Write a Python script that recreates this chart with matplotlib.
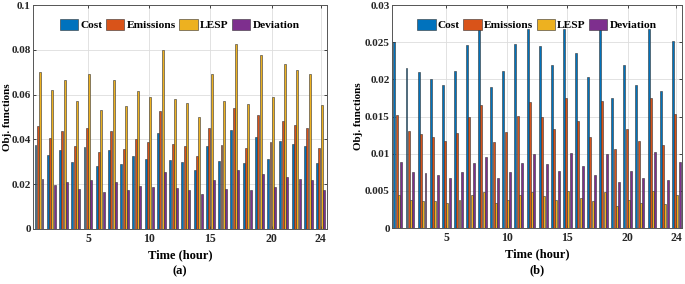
import matplotlib
matplotlib.use('Agg')
import matplotlib.pyplot as plt
import numpy as np

hours = np.arange(1, 25)
series = ['Cost', 'Emissions', 'LESP', 'Deviation']
colors = ['#0072BD', '#D95319', '#EDB120', '#7E2F8E']

# panel (a)
cost_a = [0.0373, 0.0329, 0.0353, 0.0299, 0.0366, 0.0280, 0.0353, 0.0290, 0.0326, 0.0313, 0.0427, 0.0307,
          0.0299, 0.0265, 0.0369, 0.0304, 0.0440, 0.0295, 0.0412, 0.0314, 0.0391, 0.0379, 0.0369, 0.0293]
emis_a = [0.0458, 0.0404, 0.0436, 0.0370, 0.0450, 0.0344, 0.0436, 0.0356, 0.0401, 0.0387, 0.0526, 0.0381,
          0.0369, 0.0326, 0.0453, 0.0373, 0.0541, 0.0363, 0.0507, 0.0387, 0.0481, 0.0464, 0.0453, 0.0361]
lesp_a = [0.0701, 0.0619, 0.0664, 0.0570, 0.0690, 0.0530, 0.0664, 0.0548, 0.0615, 0.0588, 0.0800, 0.0581,
          0.0564, 0.0498, 0.0693, 0.0572, 0.0828, 0.0556, 0.0775, 0.0588, 0.0738, 0.0711, 0.0693, 0.0553]
dev_a = [0.0221, 0.0196, 0.0210, 0.0179, 0.0218, 0.0166, 0.0210, 0.0173, 0.0191, 0.0187, 0.0253, 0.0184,
         0.0176, 0.0157, 0.0219, 0.0179, 0.0262, 0.0176, 0.0246, 0.0188, 0.0234, 0.0224, 0.0218, 0.0175]

# panel (b)
cost_b = [0.0250, 0.0215, 0.0210, 0.0200, 0.0192, 0.0211, 0.0246, 0.0268, 0.0190, 0.0212, 0.0248, 0.0268,
          0.0245, 0.0219, 0.0268, 0.0236, 0.0203, 0.0268, 0.0175, 0.0219, 0.0192, 0.0268, 0.0184, 0.0252]
emis_b = [0.0152, 0.0130, 0.0127, 0.0122, 0.0117, 0.0128, 0.0150, 0.0165, 0.0116, 0.0129, 0.0151, 0.0170,
          0.0149, 0.0133, 0.0175, 0.0144, 0.0123, 0.0171, 0.0106, 0.0133, 0.0117, 0.0175, 0.0112, 0.0153]
lesp_b = [0.0045, 0.0038, 0.0037, 0.0036, 0.0034, 0.0038, 0.0044, 0.0048, 0.0034, 0.0038, 0.0044, 0.0049,
          0.0043, 0.0038, 0.0050, 0.0041, 0.0036, 0.0049, 0.0030, 0.0038, 0.0034, 0.0050, 0.0032, 0.0045]
dev_b = [0.0089, 0.0075, 0.0074, 0.0071, 0.0068, 0.0075, 0.0087, 0.0096, 0.0067, 0.0075, 0.0088, 0.0099,
         0.0086, 0.0077, 0.0101, 0.0084, 0.0072, 0.0099, 0.0062, 0.0077, 0.0068, 0.0102, 0.0065, 0.0089]

xticks = [5, 10, 15, 20, 24]
yticks_a = [0, 0.02, 0.04, 0.06, 0.08, 0.1]
yticks_b = [0, 0.005, 0.01, 0.015, 0.02, 0.025, 0.03]

plt.rcParams['font.family'] = ['Liberation Serif', 'DejaVu Serif']
plt.rcParams['font.weight'] = 'bold'

fig = plt.figure(figsize=(6.85, 2.84), dpi=100)
ax_a = fig.add_axes([0.048, 0.194, 0.429, 0.788])
ax_b = fig.add_axes([0.572, 0.197, 0.424, 0.785])

panels = [(ax_a, [cost_a, emis_a, lesp_a, dev_a], yticks_a, ['0', '0.02', '0.04', '0.06', '0.08', '0.1'], '(a)', -0.072),
          (ax_b, [cost_b, emis_b, lesp_b, dev_b], yticks_b, ['0', '0.005', '0.01', '0.015', '0.02', '0.025', '0.03'], '(b)', -0.1)]

spacing = 0.19
width = 0.16
for ax, data, yt, ylabels, tag, ylab_x in panels:
    for i, (vals, c, name) in enumerate(zip(data, colors, series)):
        ax.bar(hours + (i - 1.5) * spacing, vals, width=width, color=c,
               edgecolor='#333333', linewidth=0.4, label=name, zorder=3)
    ax.set_xlim(0.5, 24.5)
    ax.set_ylim(yt[0], yt[-1])
    ax.set_xticks(xticks)
    ax.set_xticklabels([str(x) for x in xticks], fontsize=8.5, fontweight='bold')
    ax.set_yticks(yt)
    ax.set_yticklabels(ylabels, fontsize=8, fontweight='bold')
    ax.grid(True, color='#dddddd', linewidth=0.6, zorder=0)
    ax.tick_params(direction='in', length=2.5, width=0.6, top=True, right=True, colors='#262626')
    ax.tick_params(axis='y', pad=1.5)
    ax.tick_params(axis='x', pad=3)
    for s in ax.spines.values():
        s.set_color('#555555')
        s.set_linewidth(0.7)
    ax.set_xlabel('Time (hour)', fontsize=9, fontweight='bold', labelpad=3)
    ax.set_ylabel('Obj. functions', fontsize=8, fontweight='bold')
    ax.yaxis.set_label_coords(ylab_x, 0.5)
    ax.annotate(tag, xy=(0.5, -0.19), xycoords='axes fraction', ha='center', va='center',
                fontsize=9, fontweight='bold')
    leg = ax.legend(loc='upper center', ncol=4, frameon=False, fontsize=8.2, handlelength=1.6,
                    handleheight=1.1, columnspacing=0.3, handletextpad=0.2, borderaxespad=0.8)
    for t in leg.get_texts():
        t.set_fontweight('bold')

fig.savefig('out.png', dpi=100)
